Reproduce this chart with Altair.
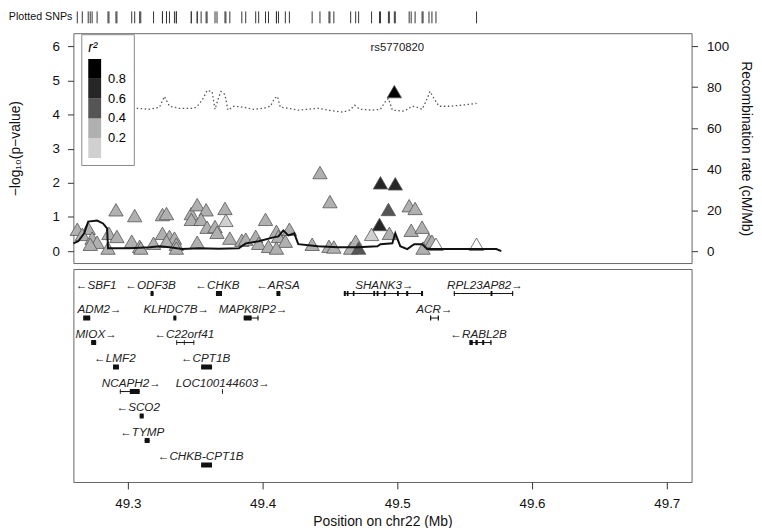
import altair as alt
import pandas as pd

FONT = "Liberation Sans"

# ---------------- SNP association data ----------------
snp_pos = [49.2625, 49.2706, 49.2662, 49.2735, 49.2772, 49.2721, 49.2853, 49.2860, 49.2919, 49.2912,
           49.3051, 49.3029, 49.3088, 49.3096, 49.3191, 49.3257, 49.3287, 49.3257, 49.3309, 49.3346,
           49.3287, 49.3360, 49.3360, 49.3471, 49.3515, 49.3581, 49.3471, 49.3544, 49.3588, 49.3647,
           49.3662, 49.3721, 49.3728, 49.3757, 49.3515, 49.3846, 49.3875, 49.3949, 49.3971, 49.4022,
           49.4044, 49.4103, 49.4118, 49.4199, 49.4169, 49.4103, 49.4368, 49.4493, 49.4529, 49.4426,
           49.4500, 49.4654, 49.4691, 49.4713, 49.4978, 49.4875, 49.4985, 49.4934, 49.4868, 49.4809,
           49.4941, 49.5088, 49.5132, 49.5103, 49.5184, 49.5235, 49.5257, 49.5287, 49.5191, 49.5588]
snp_logp = [0.64, 0.67, 0.49, 0.38, 0.26, 0.20, 0.09, 0.52, 0.43, 1.21,
            1.04, 0.29, 0.14, 0.09, 0.23, 1.07, 1.10, 0.52, 0.43, 0.38,
            0.29, 0.20, 0.09, 1.10, 1.36, 1.21, 0.93, 0.93, 0.70, 0.72,
            0.55, 1.25, 0.90, 0.38, 0.26, 0.32, 0.35, 0.43, 0.23, 0.93,
            0.14, 0.58, 0.43, 0.64, 0.29, 0.09, 0.20, 0.14, 0.12, 2.30,
            1.45, 0.09, 0.29, 0.09, 4.67, 2.00, 1.97, 1.22, 0.78, 0.49,
            0.52, 1.33, 1.25, 0.61, 0.70, 0.32, 0.29, 0.20, 0.09, 0.20]
snp_r2 = [0.3, 0.3, 0.3, 0.3, 0.3, 0.3, 0.3, 0.3, 0.3, 0.3,
          0.3, 0.3, 0.3, 0.3, 0.3, 0.3, 0.3, 0.3, 0.3, 0.3,
          0.3, 0.3, 0.3, 0.3, 0.3, 0.3, 0.3, 0.3, 0.3, 0.3,
          0.3, 0.3, 0.1, 0.3, 0.3, 0.3, 0.3, 0.3, 0.3, 0.3,
          0.3, 0.3, 0.3, 0.3, 0.3, 0.3, 0.3, 0.3, 0.3, 0.3,
          0.3, 0.3, 0.3, 0.5, 1.0, 0.7, 0.7, 0.5, 0.7, 0.1,
          0.3, 0.3, 0.3, 0.3, 0.3, 0.3, 0.3, None, 0.3, None]
top_snp = "rs5770820"
top_pos = 49.4978

# ---------------- recombination rate ----------------
rec_pos = [49.2596, 49.2632, 49.2676, 49.2706, 49.2772, 49.2816, 49.2846, 49.2853, 49.3015, 49.3162,
           49.3235, 49.3309, 49.3404, 49.3529, 49.3676, 49.3824, 49.3875, 49.3971, 49.4081, 49.4118,
           49.4154, 49.4191, 49.4235, 49.4265, 49.4412, 49.4559, 49.4706, 49.4853, 49.4875, 49.4963,
           49.4985, 49.5022, 49.5074, 49.5125, 49.5184, 49.5221, 49.5515, 49.5735, 49.5772]
rec_rate = [3.8, 4.8, 8.7, 14.4, 14.9, 13.5, 11.1, 1.4, 1.4, 1.9,
            2.4, 1.9, 1.0, 1.4, 1.2, 1.4, 3.8, 4.8, 6.7, 7.2,
            10.1, 7.7, 8.7, 3.4, 2.4, 1.9, 1.9, 2.4, 3.4, 3.8,
            8.7, 2.4, 1.0, 3.4, 3.4, 1.0, 1.0, 1.0, 0.0]

rec2_pos = [49.3066, 49.3162, 49.3235, 49.3272, 49.3309, 49.3382, 49.3493, 49.3529, 49.3559, 49.3588,
            49.3625, 49.3647, 49.3669, 49.3691, 49.3721, 49.3743, 49.3787, 49.3860, 49.3934, 49.4007,
            49.4059, 49.4088, 49.4110, 49.4132, 49.4191, 49.4265, 49.4412, 49.4485, 49.4596, 49.4647,
            49.4684, 49.4721, 49.4816, 49.4875, 49.4912, 49.4934, 49.4963, 49.5051, 49.5110, 49.5147,
            49.5184, 49.5213, 49.5243, 49.5272, 49.5309, 49.5390, 49.5478, 49.5588]
rec2_rate = [69.7, 69.2, 70.2, 75.5, 70.7, 69.7, 69.7, 71.6, 74.5, 78.4,
             77.9, 69.2, 74.0, 77.9, 76.4, 68.8, 70.7, 70.2, 69.2, 69.7,
             70.7, 74.5, 75.5, 70.2, 69.7, 68.8, 69.7, 68.8, 67.8, 68.8,
             71.2, 69.2, 68.8, 69.2, 73.1, 74.5, 68.8, 68.3, 70.7, 70.2,
             69.2, 73.1, 77.9, 74.5, 70.7, 70.7, 71.2, 72.1]

# ---------------- genes ----------------
gene_name = ["SBF1", "ODF3B", "CHKB", "ARSA", "SHANK3", "RPL23AP82",
             "ADM2", "KLHDC7B", "MAPK8IP2", "ACR",
             "MIOX", "C22orf41", "RABL2B",
             "LMF2", "CPT1B",
             "NCAPH2", "LOC100144603",
             "SCO2", "TYMP", "CHKB-CPT1B"]
gene_strand = ["-", "-", "-", "-", "+", "+",
               "+", "+", "+", "+",
               "+", "-", "-",
               "-", "-",
               "+", "+",
               "-", "-", "-"]
gene_row = [1, 1, 1, 1, 1, 1, 2, 2, 2, 2, 3, 3, 3, 4, 4, 5, 5, 6, 7, 8]
gene_start = [49.2200, 49.3169, 49.3654, 49.4103, 49.4603, 49.5419,
              49.2669, 49.3338, 49.3860, 49.5243,
              49.2728, 49.3360, 49.5535,
              49.2890, 49.3544,
              49.2941, 49.3698,
              49.3088, 49.3125, 49.3544]
gene_end = [49.2550, 49.3191, 49.3699, 49.4132, 49.5191, 49.5860,
            49.2721, 49.3360, 49.3970, 49.5309,
            49.2765, 49.3493, 49.5699,
            49.2934, 49.3625,
            49.3088, 49.3706,
            49.3118, 49.3162, 49.3625]
gene_label_x = [49.2765, 49.3169, 49.3665, 49.4114, 49.4904, 49.5651,
                49.2790, 49.3360, 49.3930, 49.5276,
                49.2765, 49.3419, 49.5603,
                49.2904, 49.3577,
                49.3026, 49.3706,
                49.3077, 49.3107, 49.3540]

exon_gene = ["ODF3B", "CHKB", "ARSA",
             "SHANK3", "SHANK3", "SHANK3", "SHANK3", "SHANK3", "SHANK3", "SHANK3", "SHANK3", "SHANK3",
             "RPL23AP82", "RPL23AP82", "RPL23AP82",
             "ADM2", "KLHDC7B", "MAPK8IP2", "MAPK8IP2", "ACR", "ACR",
             "MIOX", "C22orf41", "C22orf41", "C22orf41",
             "RABL2B", "RABL2B", "RABL2B", "RABL2B",
             "LMF2", "CPT1B", "NCAPH2", "NCAPH2", "LOC100144603",
             "SCO2", "TYMP", "CHKB-CPT1B"]
exon_start = [49.3169, 49.3654, 49.4103,
              49.4603, 49.4625, 49.4670, 49.4822, 49.4847, 49.4900, 49.4998, 49.5066, 49.5176,
              49.5419, 49.5692, 49.5852,
              49.2669, 49.3338, 49.3860, 49.3962, 49.5243, 49.5300,
              49.2728, 49.3360, 49.3416, 49.3487,
              49.5535, 49.5580, 49.5630, 49.5690,
              49.2890, 49.3544, 49.3015, 49.2941, 49.3699,
              49.3088, 49.3125, 49.3544]
exon_end = [49.3191, 49.3699, 49.4132,
            49.4618, 49.4638, 49.4682, 49.4835, 49.4860, 49.4913, 49.5011, 49.5081, 49.5191,
            49.5427, 49.5706, 49.5860,
            49.2721, 49.3360, 49.3919, 49.3970, 49.5252, 49.5309,
            49.2765, 49.3366, 49.3422, 49.3493,
            49.5560, 49.5597, 49.5645, 49.5699,
            49.2934, 49.3625, 49.3088, 49.2947, 49.3705,
            49.3118, 49.3162, 49.3625]

# ---------------- scales ----------------
X_DOMAIN = [49.2596, 49.7184]
P_DOMAIN = [-0.35, 6.38]
R_DOMAIN = [-5.83, 106.33]
G_DOMAIN = [0, 8.69]
R2_BREAKS = [0.2, 0.4, 0.6, 0.8]
R2_COLORS = ["#d0d0d0", "#b0b0b0", "#555555", "#262626", "#000000"]

W = 624

snps = pd.DataFrame({"pos": snp_pos, "logp": snp_logp, "r2": snp_r2})
rec = pd.DataFrame({"pos": rec_pos, "rate": rec_rate})
rec2 = pd.DataFrame({"pos": rec2_pos, "rate": rec2_rate})

row_of = dict(zip(gene_name, gene_row))
genes = pd.DataFrame({"name": gene_name, "start": gene_start, "end": gene_end,
                      "row": gene_row, "strand": gene_strand, "lx": gene_label_x})
genes["label"] = [("\u2190" + n) if s == "-" else (n + "\u2192") for n, s in zip(gene_name, gene_strand)]
exons = pd.DataFrame({"gene": exon_gene, "start": exon_start, "end": exon_end})
exons["row"] = [row_of[g] for g in exon_gene]

xs = alt.Scale(domain=X_DOMAIN, nice=False, zero=False)

# ---------------- rug of plotted SNPs ----------------
rug_ticks = alt.Chart(snps).mark_rule(color="#333", strokeWidth=1).encode(
    x=alt.X("pos:Q", scale=xs, axis=None),
    y=alt.value(0), y2=alt.value(12),
)
rug_text = alt.Chart(pd.DataFrame({"t": ["Plotted SNPs"]})).mark_text(
    align="right", baseline="middle", fontSize=10.8, font=FONT, color="#111"
).encode(text="t:N", x=alt.value(-1), y=alt.value(6))
rug = alt.layer(rug_ticks, rug_text).properties(
    width=W, height=16, view=alt.ViewConfig(stroke="transparent"))

# ---------------- association panel ----------------
pts = alt.Chart(snps).transform_filter("datum.r2 != null").mark_point(
    shape="triangle-up", filled=True, size=210, stroke="#555", strokeWidth=0.8, opacity=1
).encode(
    x=alt.X("pos:Q", scale=xs, axis=None),
    y=alt.Y("logp:Q", scale=alt.Scale(domain=P_DOMAIN, nice=False, zero=False),
            axis=alt.Axis(values=[0, 1, 2, 3, 4, 5, 6], title="\u2212log\u2081\u2080(p\u2212value)",
                          domain=False, grid=False, tickSize=6, labelPadding=8, titlePadding=29.5,
                          labelFontSize=13.5, titleFontSize=14, tickColor="#333")),
    fill=alt.Fill("r2:Q", scale=alt.Scale(type="threshold", domain=R2_BREAKS, range=R2_COLORS),
                  legend=alt.Legend(type="gradient", orient="none", legendX=8, legendY=23,
                                    direction="vertical",
                                    title="r\u00b2", titleFontStyle="italic", titleFontSize=14,
                                    titleFontWeight="normal", titlePadding=4,
                                    gradientLength=100, gradientThickness=13, padding=7,
                                    strokeColor="#888", fillColor="white", labelFontSize=13,
                                    labelOffset=7, cornerRadius=0)),
)
pts_na = alt.Chart(snps).transform_filter("datum.r2 == null").mark_point(
    shape="triangle-up", filled=True, size=210, stroke="#555", strokeWidth=0.8, fill="white", opacity=1
).encode(
    x=alt.X("pos:Q", scale=xs, axis=None),
    y=alt.Y("logp:Q", scale=alt.Scale(domain=P_DOMAIN, nice=False, zero=False), axis=None),
)
rec_line = alt.Chart(rec).mark_line(color="#111", strokeWidth=2).encode(
    x=alt.X("pos:Q", scale=xs, axis=None),
    y=alt.Y("rate:Q", scale=alt.Scale(domain=R_DOMAIN, nice=False, zero=False),
            axis=alt.Axis(orient="right", values=[0, 20, 40, 60, 80, 100],
                          title="Recombination rate (cM/Mb)", domain=False, grid=False,
                          tickSize=6, labelPadding=9, titlePadding=10,
                          labelFontSize=13.5, titleFontSize=14, tickColor="#333")),
)
rec2_line = alt.Chart(rec2).mark_line(color="#555", strokeWidth=1.3, strokeDash=[1.5, 2.5]).encode(
    x=alt.X("pos:Q", scale=xs, axis=None),
    y=alt.Y("rate:Q", scale=alt.Scale(domain=R_DOMAIN, nice=False, zero=False), axis=None),
)
lab = alt.Chart(pd.DataFrame({"pos": [top_pos], "y": [5.94], "t": [top_snp]})).mark_text(
    fontSize=11.5, font=FONT, color="#222", dx=3
).encode(
    x=alt.X("pos:Q", scale=xs, axis=None),
    y=alt.Y("y:Q", scale=alt.Scale(domain=P_DOMAIN, nice=False, zero=False), axis=None),
    text="t:N",
)
assoc = alt.layer(pts, pts_na, rec2_line, rec_line, lab).resolve_scale(y="independent").properties(
    width=W, height=232)

# ---------------- gene panel ----------------
gy = alt.Scale(domain=G_DOMAIN, nice=False, zero=False, reverse=True)
spans = alt.Chart(genes).mark_rule(color="#111", strokeWidth=1, clip=True).encode(
    x=alt.X("start:Q", scale=xs, axis=alt.Axis(values=[49.3, 49.4, 49.5, 49.6, 49.7], format=".1f",
                                                title="Position on chr22 (Mb)", domain=False, grid=False,
                                                tickSize=7, labelPadding=8, titlePadding=4,
                                                labelFontSize=13.5, titleFontSize=14, tickColor="#333")),
    x2="end:Q",
    y=alt.Y("row:Q", scale=gy, axis=None),
)
ex = alt.Chart(exons).mark_rule(color="#111", strokeWidth=5, strokeCap="butt", clip=True).encode(
    x=alt.X("start:Q", scale=xs),
    x2="end:Q",
    y=alt.Y("row:Q", scale=gy, axis=None),
)
glab = alt.Chart(genes).mark_text(fontSize=11.8, fontStyle="italic", font=FONT, color="#222", dy=-9).encode(
    x=alt.X("lx:Q", scale=xs),
    y=alt.Y("row:Q", scale=gy, axis=None),
    text="label:N",
)
genep = alt.layer(spans, ex, glab).properties(width=W, height=215)

chart = alt.vconcat(rug, assoc, genep, spacing=6, bounds="flush").properties(padding=0).configure(
    font=FONT
).configure_view(stroke="#666", strokeWidth=1).configure_axis(
    labelFont=FONT, titleFont=FONT, labelColor="#111", titleColor="#111", titleFontWeight="normal"
).configure_legend(labelFont=FONT, titleFont=FONT)

chart.save("out.html", embed_options={"renderer": "svg", "actions": False})
